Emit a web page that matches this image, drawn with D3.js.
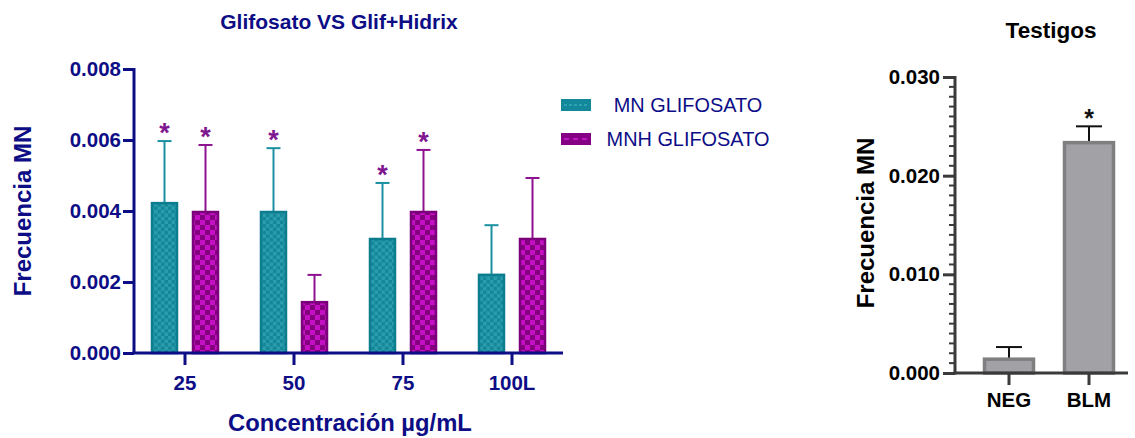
<!DOCTYPE html>
<html>
<head>
<meta charset="utf-8">
<script src="https://cdn.jsdelivr.net/npm/d3@7"></script>
<style>
  html, body { margin: 0; padding: 0; background: #fff; }
  svg { display: block; font-family: "Liberation Sans", Arial, sans-serif; }
</style>
</head>
<body>
<svg id="chart" width="1135" height="438"></svg>
<script>
// Glyphosate vs Glyphosate+Hidrix micronucleus frequencies
const categories = ["25", "50", "75", "100L"];
const seriesNames = ["MN GLIFOSATO", "MNH GLIFOSATO"];
const mnGlifosato = [0.00425, 0.0040, 0.00324, 0.00223];
const mnGlifosatoSD = [0.00172, 0.00177, 0.00155, 0.00137];
const mnhGlifosato = [0.0040, 0.00146, 0.0040, 0.00324];
const mnhGlifosatoSD = [0.00186, 0.00074, 0.00172, 0.00169];
const mnSignificant = [true, true, true, false];
const mnhSignificant = [true, false, true, false];
const leftTicks = [0, 0.002, 0.004, 0.006, 0.008];

// Control groups
const controls = ["NEG", "BLM"];
const controlValues = [0.0014, 0.02335];
const controlSD = [0.00123, 0.00165];
const controlSignificant = [false, true];
const rightTicks = [0, 0.01, 0.02, 0.03];

const navy = "#0d0d86";
const FONT = "Liberation Sans, Arial, sans-serif";
const svg = d3.select("#chart");

// ---------- fill patterns ----------
const defs = svg.append("defs");
function checker(id, size, base, alt) {
  const p = defs.append("pattern").attr("id", id)
    .attr("patternUnits", "userSpaceOnUse")
    .attr("width", size * 2).attr("height", size * 2);
  p.append("rect").attr("width", size * 2).attr("height", size * 2).attr("fill", base);
  p.append("rect").attr("width", size).attr("height", size).attr("fill", alt);
  p.append("rect").attr("x", size).attr("y", size).attr("width", size).attr("height", size).attr("fill", alt);
}
checker("chkTeal", 3.5, "#148898", "#2a9cae");
checker("chkPurple", 5, "#84007f", "#c40fc4");

const seriesStyle = [
  { fill: "url(#chkTeal)", stroke: "#0c7d8f", err: "#1a8fa0" },
  { fill: "url(#chkPurple)", stroke: "#7c007c", err: "#8e1190" }
];
const starColor = "#7e1690";

// ---------- left chart ----------
const yL = d3.scaleLinear().domain([0, 0.008]).range([353, 69]);
const xL = d3.scaleBand().domain(categories).range([130.5, 566.5]);
const xSub = d3.scaleBand().domain(seriesNames).range([20.5, 88.5]).paddingInner(0.3415);

const rows = [];
categories.forEach((c, i) => {
  rows.push({ cat: c, s: 0, v: mnGlifosato[i], sd: mnGlifosatoSD[i], sig: mnSignificant[i] });
  rows.push({ cat: c, s: 1, v: mnhGlifosato[i], sd: mnhGlifosatoSD[i], sig: mnhSignificant[i] });
});
const barX = d => xL(d.cat) + xSub(seriesNames[d.s]);
const barMid = d => barX(d) + xSub.bandwidth() / 2;

const gL = svg.append("g");

// error bars (upper only)
const eb = gL.selectAll("g.err").data(rows).join("g").attr("class", "err");
eb.append("line")
  .attr("x1", barMid).attr("x2", barMid)
  .attr("y1", d => yL(d.v)).attr("y2", d => yL(d.v + d.sd))
  .attr("stroke", d => seriesStyle[d.s].err).attr("stroke-width", 2);
eb.append("line")
  .attr("x1", d => barMid(d) - 7).attr("x2", d => barMid(d) + 7)
  .attr("y1", d => yL(d.v + d.sd)).attr("y2", d => yL(d.v + d.sd))
  .attr("stroke", d => seriesStyle[d.s].err).attr("stroke-width", 2);

// bars
gL.selectAll("rect.bar").data(rows).join("rect").attr("class", "bar")
  .attr("x", d => barX(d) + 1)
  .attr("width", xSub.bandwidth() - 2)
  .attr("y", d => yL(d.v) + 1)
  .attr("height", d => yL(0) - yL(d.v) - 1)
  .attr("fill", d => seriesStyle[d.s].fill)
  .attr("stroke", d => seriesStyle[d.s].stroke)
  .attr("stroke-width", 2.5);

// significance stars
gL.selectAll("text.star").data(rows.filter(d => d.sig)).join("text").attr("class", "star")
  .attr("x", barMid).attr("y", d => yL(d.v + d.sd) + 1)
  .attr("text-anchor", "middle")
  .attr("font-size", 27).attr("font-weight", "bold")
  .attr("fill", starColor).text("*");

// axes
const axL = gL.append("g").attr("transform", "translate(134,0)")
  .call(d3.axisLeft(yL).tickValues(leftTicks).tickFormat(d3.format(".3f")).tickSize(11).tickSizeOuter(0).tickPadding(2));
axL.select(".domain").attr("stroke", navy).attr("stroke-width", 3).attr("d", "M0,353V68");
axL.selectAll(".tick line").attr("stroke", navy).attr("stroke-width", 3);
axL.selectAll(".tick text").attr("fill", navy).attr("font-size", 20.5).attr("font-weight", "bold")
  .attr("font-family", FONT);

const axB = gL.append("g").attr("transform", "translate(0,353)")
  .call(d3.axisBottom(xL).tickSize(12).tickSizeOuter(0).tickPadding(10));
axB.select(".domain").attr("stroke", navy).attr("stroke-width", 3).attr("d", "M132.5,0H563");
axB.selectAll(".tick line").attr("stroke", navy).attr("stroke-width", 3);
axB.selectAll(".tick text").attr("fill", navy).attr("font-size", 20.5).attr("font-weight", "bold")
  .attr("font-family", FONT);

// titles
svg.append("text").attr("x", 339).attr("y", 29).attr("text-anchor", "middle")
  .attr("font-size", 21).attr("font-weight", "bold").attr("fill", navy)
  .text("Glifosato VS Glif+Hidrix");
svg.append("text").attr("x", 350).attr("y", 431).attr("text-anchor", "middle")
  .attr("font-size", 23.8).attr("font-weight", "bold").attr("fill", navy)
  .text("Concentración µg/mL");
svg.append("text").attr("transform", "translate(31,211) rotate(-90)").attr("text-anchor", "middle")
  .attr("font-size", 24).attr("font-weight", "bold").attr("fill", navy)
  .text("Frecuencia MN");

// legend
const legend = svg.append("g");
seriesNames.forEach((name, i) => {
  const y = 105 + i * 34;
  legend.append("rect").attr("x", 561).attr("y", y - 6).attr("width", 30).attr("height", 12)
    .attr("fill", i === 0 ? "#13889a" : "#860086");
  legend.append("line").attr("x1", 564).attr("x2", 588).attr("y1", y).attr("y2", y)
    .attr("stroke", i === 0 ? "#3aa9b9" : "#d020d0").attr("stroke-width", 1.5)
    .attr("stroke-dasharray", i === 0 ? "3,2" : "5,4");
  legend.append("text").attr("x", 688).attr("y", y + 7).attr("text-anchor", "middle")
    .attr("font-size", 19.9).attr("fill", navy).text(name);
});

// ---------- right chart ----------
const gray = "#3a3a3a";
const yR = d3.scaleLinear().domain([0, 0.03]).range([373, 77]);
const xR = d3.scaleBand().domain(controls).range([969, 1129]).paddingInner(0.35).paddingOuter(0.175);
const ctl = controls.map((c, i) => ({ cat: c, v: controlValues[i], sd: controlSD[i], sig: controlSignificant[i] }));
const gR = svg.append("g");
const ctlMid = d => xR(d.cat) + xR.bandwidth() / 2;

gR.selectAll("line.errv").data(ctl).join("line").attr("class", "errv")
  .attr("x1", ctlMid).attr("x2", ctlMid)
  .attr("y1", d => yR(d.v)).attr("y2", d => yR(d.v + d.sd))
  .attr("stroke", "#111").attr("stroke-width", 2);
gR.selectAll("line.errc").data(ctl).join("line").attr("class", "errc")
  .attr("x1", d => ctlMid(d) - 13).attr("x2", d => ctlMid(d) + 13)
  .attr("y1", d => yR(d.v + d.sd)).attr("y2", d => yR(d.v + d.sd))
  .attr("stroke", "#111").attr("stroke-width", 2);

gR.selectAll("rect.bar").data(ctl).join("rect").attr("class", "bar")
  .attr("x", d => xR(d.cat) + 1.5).attr("width", xR.bandwidth() - 3)
  .attr("y", d => yR(d.v)).attr("height", d => yR(0) - yR(d.v))
  .attr("fill", "#a2a2a6").attr("stroke", "#7f7f82").attr("stroke-width", 3.5);

gR.selectAll("text.star").data(ctl.filter(d => d.sig)).join("text").attr("class", "star")
  .attr("x", ctlMid).attr("y", d => yR(d.v + d.sd) + 1)
  .attr("text-anchor", "middle").attr("font-size", 25).attr("font-weight", "bold")
  .attr("fill", "#111").text("*");

// minor ticks every 0.001
const minorTicks = d3.range(0, 31).map(i => i * 0.001).filter(v => !rightTicks.some(t => Math.abs(t - v) < 1e-9));
gR.append("g").selectAll("line").data(minorTicks).join("line")
  .attr("x1", 949).attr("x2", 955).attr("y1", d => yR(d)).attr("y2", d => yR(d))
  .attr("stroke", gray).attr("stroke-width", 2);

const axR = gR.append("g").attr("transform", "translate(955,0)")
  .call(d3.axisLeft(yR).tickValues(rightTicks).tickFormat(d3.format(".3f")).tickSize(12).tickSizeOuter(0).tickPadding(3));
axR.select(".domain").attr("stroke", gray).attr("stroke-width", 3).attr("d", "M0,374.5V76");
axR.selectAll(".tick line").attr("stroke", gray).attr("stroke-width", 3);
axR.selectAll(".tick text").attr("fill", "#000").attr("font-size", 20.5).attr("font-weight", "bold")
  .attr("font-family", FONT);

const axRB = gR.append("g").attr("transform", "translate(0,373)")
  .call(d3.axisBottom(xR).tickSize(12).tickSizeOuter(0).tickPadding(7));
axRB.select(".domain").attr("stroke", gray).attr("stroke-width", 3).attr("d", "M953.5,0H1128");
axRB.selectAll(".tick line").attr("stroke", gray).attr("stroke-width", 3);
axRB.selectAll(".tick text").attr("fill", "#000").attr("font-size", 20.5).attr("font-weight", "bold")
  .attr("font-family", FONT);

svg.append("text").attr("x", 1051).attr("y", 38).attr("text-anchor", "middle")
  .attr("font-size", 22.5).attr("font-weight", "bold").attr("fill", "#000").text("Testigos");
svg.append("text").attr("transform", "translate(874,223) rotate(-90)").attr("text-anchor", "middle")
  .attr("font-size", 24).attr("font-weight", "bold").attr("fill", "#000").text("Frecuencia MN");
</script>
</body>
</html>
